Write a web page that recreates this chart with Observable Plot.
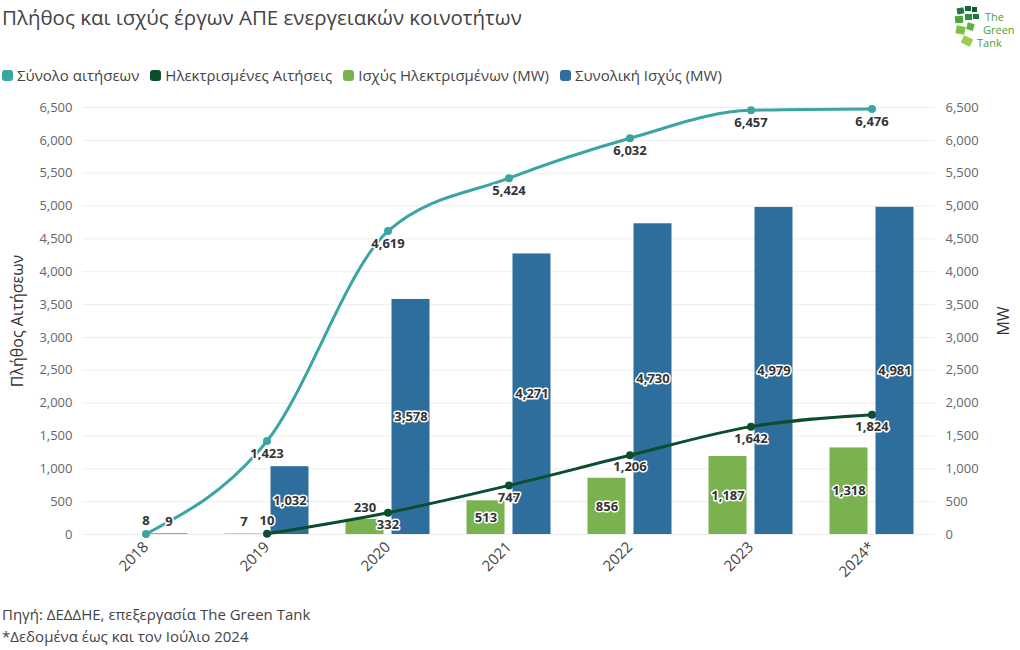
<!DOCTYPE html>
<html>
<head>
<meta charset="utf-8">
<script src="https://cdn.jsdelivr.net/npm/d3@7"></script>
<script src="https://cdn.jsdelivr.net/npm/@observablehq/plot@0.6"></script>
<style>
  html, body { margin: 0; padding: 0; background: #fff; }
  body { width: 1020px; height: 650px; position: relative; font-family: "Open Sans", "Noto Sans", sans-serif; overflow: hidden; }
  #title { position: absolute; left: 2px; top: 3px; font-size: 20.5px; color: #444; }
  #legend { position: absolute; left: 2px; top: 65px; font-size: 15px; color: #444; display: flex; gap: 11px; }
  #legend span.item { display: flex; align-items: center; }
  #legend span.sw { display: inline-block; width: 11px; height: 11px; border-radius: 3px; margin-right: 4px; }
  #chart { position: absolute; left: 0; top: 90px; }
  #caption { position: absolute; left: 2px; top: 603px; font-size: 15px; color: #444; line-height: 22px; }
  #logo { position: absolute; left: 952px; top: 4px; }
</style>
</head>
<body>
<div id="title">Πλήθος και ισχύς έργων ΑΠΕ ενεργειακών κοινοτήτων</div>
<div id="legend"></div>
<div id="chart"></div>
<div id="caption">Πηγή: ΔΕΔΔΗΕ, επεξεργασία The Green Tank<br>*Δεδομένα έως και τον Ιούλιο 2024</div>
<svg id="logo" width="66" height="48" viewBox="0 0 66 48">
  <g>
    <rect x="5" y="4" width="7" height="6" fill="#1f7a3a" transform="rotate(-10 8 7)"/>
    <rect x="13" y="2" width="6" height="5" fill="#14663a"/>
    <rect x="20" y="3" width="5" height="5" fill="#0f5a34"/>
    <rect x="3" y="12" width="8" height="7" fill="#4ea63a" transform="rotate(-5 7 15)"/>
    <rect x="13" y="10" width="7" height="6" fill="#2f8f3a"/>
    <rect x="21" y="10" width="6" height="5" fill="#1d7a3a"/>
    <rect x="4" y="22" width="9" height="8" fill="#7cc242" transform="rotate(10 8 26)"/>
    <rect x="15" y="19" width="7" height="7" fill="#5fb240" transform="rotate(15 18 22)"/>
    <rect x="10" y="33" width="10" height="8" fill="#9ccc4a" transform="rotate(25 15 37)"/>
  </g>
  <text x="33" y="17" font-size="11" fill="#4a9e3a" font-family="Open Sans">The</text>
  <text x="31" y="30" font-size="11" fill="#4a9e3a" font-family="Open Sans">Green</text>
  <text x="25" y="43" font-size="11" fill="#4a9e3a" font-family="Open Sans">Tank</text>
</svg>
<script>
// ---- data ----
const years = ["2018", "2019", "2020", "2021", "2022", "2023", "2024*"];
const totalApplications = [8, 1423, 4619, 5424, 6032, 6457, 6476];       // Σύνολο αιτήσεων
const electrifiedApplications = [null, 10, 332, 747, 1206, 1642, 1824];  // Ηλεκτρισμένες Αιτήσεις
const electrifiedPowerMW = [null, 7, 230, 513, 856, 1187, 1318];         // Ισχύς Ηλεκτρισμένων (MW)
const totalPowerMW = [9, 1032, 3578, 4271, 4730, 4979, 4981];            // Συνολική Ισχύς (MW)
const yTicks = d3.range(0, 6501, 500);

const seriesNames = ["Σύνολο αιτήσεων", "Ηλεκτρισμένες Αιτήσεις", "Ισχύς Ηλεκτρισμένων (MW)", "Συνολική Ισχύς (MW)"];
const colors = ["#3aa5a3", "#0c4d2e", "#7ab24f", "#2e6e9d"];

// ---- legend ----
const leg = document.getElementById("legend");
seriesNames.forEach((n, i) => {
  const s = document.createElement("span");
  s.className = "item";
  s.innerHTML = `<span class="sw" style="background:${colors[i]}"></span>${n}`;
  leg.appendChild(s);
});

const rows = (arr) => years.map((y, i) => ({year: y, v: arr[i]})).filter(d => d.v != null);
const tot = rows(totalApplications);
const ele = rows(electrifiedApplications);
const gp = rows(electrifiedPowerMW);
const bp = rows(totalPowerMW);

const fmt = d3.format(",");
const labelStyle = {fill: "#333", stroke: "white", strokeWidth: 3, fontSize: 13, fontWeight: "bold"};
const barInset = 41.5;
const off = 23;
const insideMin = 400;

const chart = Plot.plot({
  width: 1020,
  height: 512,
  marginLeft: 82,
  marginRight: 85,
  marginTop: 17,
  marginBottom: 68,
  style: {fontFamily: "Open Sans, Noto Sans, sans-serif", background: "white", overflow: "visible"},
  x: {domain: years, padding: 0, label: null},
  y: {domain: [0, 6500], label: null},
  marks: [
    Plot.ruleY(yTicks, {stroke: "#eee", strokeWidth: 1}),
    Plot.axisY({anchor: "left", ticks: yTicks, tickFormat: fmt, tickSize: 0, tickPadding: 10, fontSize: 13, color: "#666", label: null}),
    Plot.axisY({anchor: "right", ticks: yTicks, tickFormat: fmt, tickSize: 0, tickPadding: 10, fontSize: 13, color: "#666", label: null}),
    Plot.axisX({tickRotate: -45, tickSize: 0, tickPadding: 10, fontSize: 15, color: "#444", label: null}),
    Plot.barY(gp, {x: "year", y: "v", fill: colors[2], insetLeft: barInset, insetRight: barInset, dx: -off}),
    Plot.barY(bp, {x: "year", y: "v", fill: colors[3], insetLeft: barInset, insetRight: barInset, dx: off}),
    Plot.line(tot, {x: "year", y: "v", stroke: colors[0], strokeWidth: 3, curve: "monotone-x"}),
    Plot.dot(tot, {x: "year", y: "v", fill: colors[0], r: 4}),
    Plot.line(ele, {x: "year", y: "v", stroke: colors[1], strokeWidth: 3, curve: "monotone-x"}),
    Plot.dot(ele, {x: "year", y: "v", fill: colors[1], r: 4}),
    // bar labels inside (centered) / outside (above)
    Plot.text(gp.filter(d => d.v >= insideMin), {x: "year", y: d => d.v / 2, text: d => fmt(d.v), dx: -off, ...labelStyle}),
    Plot.text(gp.filter(d => d.v < insideMin), {x: "year", y: "v", text: d => fmt(d.v), dx: -off, dy: -12, ...labelStyle}),
    Plot.text(bp.filter(d => d.v >= insideMin), {x: "year", y: d => d.v / 2, text: d => fmt(d.v), dx: off, ...labelStyle}),
    Plot.text(bp.filter(d => d.v < insideMin), {x: "year", y: "v", text: d => fmt(d.v), dx: off, dy: -12, ...labelStyle}),
    // line labels
    Plot.text(tot.filter(d => d.v >= 100), {x: "year", y: "v", text: d => fmt(d.v), dy: 13, ...labelStyle}),
    Plot.text(tot.filter(d => d.v < 100), {x: "year", y: "v", text: d => fmt(d.v), dy: -13, ...labelStyle}),
    Plot.text(ele.filter(d => d.v >= 100), {x: "year", y: "v", text: d => fmt(d.v), dy: 12, ...labelStyle}),
    Plot.text(ele.filter(d => d.v < 100), {x: "year", y: "v", text: d => fmt(d.v), dy: -13, ...labelStyle}),
    // axis titles
    Plot.text(["Πλήθος Αιτήσεων"], {frameAnchor: "left", textAnchor: "middle", dx: -65, rotate: -90, fontSize: 16, fill: "#333"}),
    Plot.text(["MW"], {frameAnchor: "right", textAnchor: "middle", dx: 68, rotate: -90, fontSize: 16, fill: "#333"})
  ]
});
document.getElementById("chart").appendChild(chart);
</script>
</body>
</html>
